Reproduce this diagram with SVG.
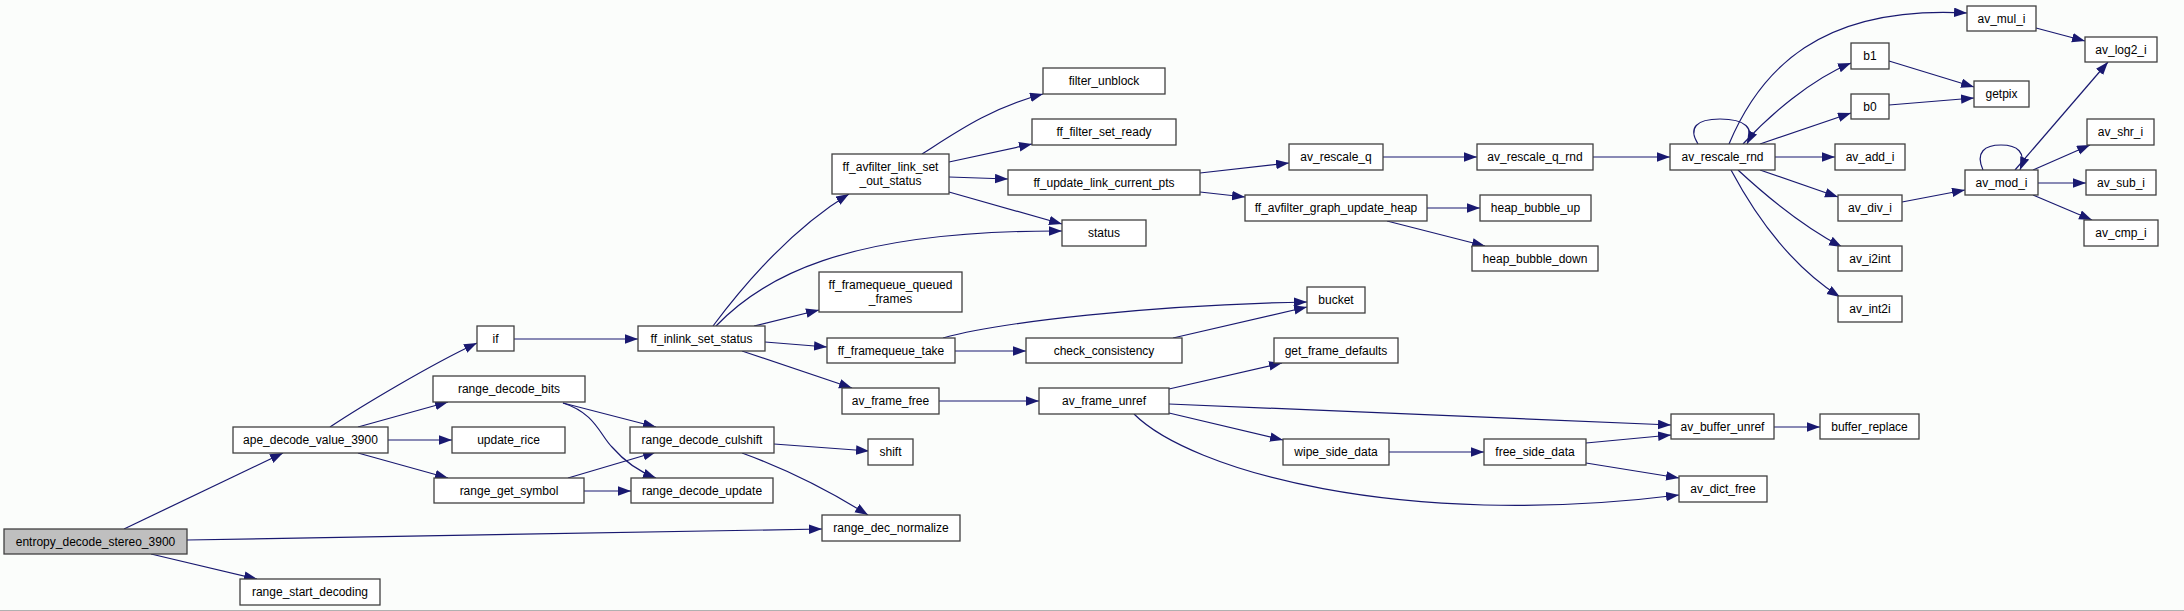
<svg xmlns="http://www.w3.org/2000/svg" width="2184" height="611" viewBox="0 0 2184 611">
<style>
.bg{fill:#fbfdfb}
.n rect{fill:#ffffff;stroke:#404040;stroke-width:1.3}
.n text{font-family:"Liberation Sans",Arial,sans-serif;font-size:12px;fill:#000;text-anchor:middle}
.e path{fill:none;stroke:#191970;stroke-width:1.2;marker-end:url(#ah)}
</style>
<defs>
<marker id="ah" markerWidth="14" markerHeight="10" refX="13" refY="4.75" orient="auto" markerUnits="userSpaceOnUse">
<path d="M0,0 L13,4.75 L0,9.5 z" fill="#191970"/>
</marker>
</defs>
<rect class="bg" x="0" y="0" width="2184" height="611"/>
<line x1="0" y1="610.5" x2="2184" y2="610.5" stroke="#b0b0b0" stroke-width="1"/>
<g id="connectors" class="e">
<path d="M124,529 L283,453"/>
<path d="M151,554 L257,579"/>
<path d="M187,540 L822,529"/>
<path d="M330,427 C360,407 430,365 477,343"/>
<path d="M358,427 L448,402"/>
<path d="M388,440 L452,440"/>
<path d="M358,453 L448,478"/>
<path d="M514,339 L638,339"/>
<path d="M563,403 L656,427"/>
<path d="M563,403 C595,413 600,435 612,447 C625,462 640,472 656,478"/>
<path d="M568,478 L656,452"/>
<path d="M584,491 L631,491"/>
<path d="M774,444 L869,451"/>
<path d="M742,453 C775,465 820,485 868,515"/>
<path d="M713,326 C740,290 790,230 849,194"/>
<path d="M716,326 C760,280 840,230 1062,231"/>
<path d="M754,326 L819,310"/>
<path d="M765,342 L827,347"/>
<path d="M742,351 L852,388"/>
<path d="M922,154 C955,133 990,108 1043,94"/>
<path d="M949,162 L1032,144"/>
<path d="M949,177 L1008,179"/>
<path d="M949,192 L1062,224"/>
<path d="M943,338 C1000,322 1150,305 1307,302"/>
<path d="M955,351 L1026,351"/>
<path d="M1173,338 L1307,307"/>
<path d="M939,401 L1039,401"/>
<path d="M1200,173 L1289,163"/>
<path d="M1200,192 L1245,197"/>
<path d="M1383,157 L1477,157"/>
<path d="M1593,157 L1670,157"/>
<path d="M1427,208 L1480,208"/>
<path d="M1387,221 L1485,246"/>
<path d="M1169,389 L1282,363"/>
<path d="M1169,404 L1671,425"/>
<path d="M1169,413 L1283,440"/>
<path d="M1134,414 C1190,470 1400,530 1679,495"/>
<path d="M1389,452 L1484,452"/>
<path d="M1586,443 L1671,435"/>
<path d="M1586,463 L1679,478"/>
<path d="M1774,427 L1820,427"/>
<path d="M1698,144 C1688,128 1696,119 1720,119 C1745,119 1755,128 1747,144"/>
<path d="M1729,144 C1760,70 1820,5 1967,13"/>
<path d="M1743,144 C1770,115 1810,80 1851,63"/>
<path d="M1760,144 L1851,113"/>
<path d="M1775,157 L1835,157"/>
<path d="M1760,170 L1838,197"/>
<path d="M1738,170 C1765,195 1800,225 1842,247"/>
<path d="M1731,170 C1755,215 1790,265 1840,297"/>
<path d="M1889,61 L1974,87"/>
<path d="M1889,105 L1974,98"/>
<path d="M2036,28 L2085,41"/>
<path d="M1902,202 L1965,190"/>
<path d="M1983,170 C1975,152 1985,145 2001,145 C2017,145 2027,152 2020,170"/>
<path d="M2015,170 L2108,62"/>
<path d="M2033,170 L2090,145"/>
<path d="M2038,183 L2086,183"/>
<path d="M2033,195 L2092,220"/>
</g>
<g id="n_entropy" class="n"><rect x="4" y="529" width="183" height="25" style="fill:#bfbfbf"/><text x="95.5" y="545.5">entropy_decode_stereo_3900</text></g>
<g id="n_ape" class="n"><rect x="233" y="427" width="155" height="26"/><text x="310.5" y="444">ape_decode_value_3900</text></g>
<g id="n_rsd" class="n"><rect x="240" y="579" width="140" height="26"/><text x="310" y="596">range_start_decoding</text></g>
<g id="n_if" class="n"><rect x="477" y="326" width="37" height="25"/><text x="495.5" y="342.5">if</text></g>
<g id="n_rdb" class="n"><rect x="433" y="376" width="152" height="26"/><text x="509" y="393">range_decode_bits</text></g>
<g id="n_ur" class="n"><rect x="452" y="427" width="113" height="26"/><text x="508.5" y="444">update_rice</text></g>
<g id="n_rgs" class="n"><rect x="434" y="478" width="150" height="25"/><text x="509" y="494.5">range_get_symbol</text></g>
<g id="n_fis" class="n"><rect x="638" y="326" width="127" height="25"/><text x="701.5" y="342.5">ff_inlink_set_status</text></g>
<g id="n_fqq" class="n"><rect x="819" y="272" width="143" height="40"/><text x="890.5" y="289">ff_framequeue_queued</text><text x="890.5" y="303">_frames</text></g>
<g id="n_fqt" class="n"><rect x="827" y="338" width="128" height="25"/><text x="891" y="354.5">ff_framequeue_take</text></g>
<g id="n_cc" class="n"><rect x="1026" y="338" width="156" height="25"/><text x="1104" y="354.5">check_consistency</text></g>
<g id="n_aff" class="n"><rect x="842" y="388" width="97" height="26"/><text x="890.5" y="405">av_frame_free</text></g>
<g id="n_afu" class="n"><rect x="1039" y="388" width="130" height="26"/><text x="1104" y="405">av_frame_unref</text></g>
<g id="n_rdc" class="n"><rect x="630" y="427" width="144" height="26"/><text x="702" y="444">range_decode_culshift</text></g>
<g id="n_rdu" class="n"><rect x="631" y="478" width="142" height="25"/><text x="702" y="494.5">range_decode_update</text></g>
<g id="n_shift" class="n"><rect x="868" y="439" width="45" height="26"/><text x="890.5" y="456">shift</text></g>
<g id="n_rdn" class="n"><rect x="822" y="515" width="138" height="26"/><text x="891" y="532">range_dec_normalize</text></g>
<g id="n_fals" class="n"><rect x="832" y="154" width="117" height="40"/><text x="890.5" y="171">ff_avfilter_link_set</text><text x="890.5" y="185">_out_status</text></g>
<g id="n_fu" class="n"><rect x="1043" y="68" width="122" height="26"/><text x="1104" y="85">filter_unblock</text></g>
<g id="n_fsr" class="n"><rect x="1032" y="119" width="144" height="26"/><text x="1104" y="136">ff_filter_set_ready</text></g>
<g id="n_fulcp" class="n"><rect x="1008" y="170" width="192" height="25"/><text x="1104" y="186.5">ff_update_link_current_pts</text></g>
<g id="n_status" class="n"><rect x="1062" y="220" width="84" height="26"/><text x="1104" y="237">status</text></g>
<g id="n_arq" class="n"><rect x="1289" y="144" width="94" height="26"/><text x="1336" y="161">av_rescale_q</text></g>
<g id="n_arqr" class="n"><rect x="1477" y="144" width="116" height="26"/><text x="1535" y="161">av_rescale_q_rnd</text></g>
<g id="n_fagu" class="n"><rect x="1245" y="195" width="182" height="26"/><text x="1336" y="212">ff_avfilter_graph_update_heap</text></g>
<g id="n_hbu" class="n"><rect x="1480" y="195" width="111" height="26"/><text x="1535.5" y="212">heap_bubble_up</text></g>
<g id="n_hbd" class="n"><rect x="1472" y="246" width="126" height="25"/><text x="1535" y="262.5">heap_bubble_down</text></g>
<g id="n_bucket" class="n"><rect x="1307" y="287" width="58" height="26"/><text x="1336" y="304">bucket</text></g>
<g id="n_gfd" class="n"><rect x="1274" y="338" width="124" height="25"/><text x="1336" y="354.5">get_frame_defaults</text></g>
<g id="n_wsd" class="n"><rect x="1283" y="439" width="106" height="26"/><text x="1336" y="456">wipe_side_data</text></g>
<g id="n_fsd" class="n"><rect x="1484" y="439" width="102" height="26"/><text x="1535" y="456">free_side_data</text></g>
<g id="n_abu" class="n"><rect x="1671" y="414" width="103" height="25"/><text x="1722.5" y="430.5">av_buffer_unref</text></g>
<g id="n_br" class="n"><rect x="1820" y="414" width="99" height="25"/><text x="1869.5" y="430.5">buffer_replace</text></g>
<g id="n_adf" class="n"><rect x="1679" y="476" width="88" height="26"/><text x="1723" y="493">av_dict_free</text></g>
<g id="n_int2i" class="n"><rect x="1838" y="296" width="64" height="26"/><text x="1870" y="313">av_int2i</text></g>
<g id="n_arr" class="n"><rect x="1670" y="144" width="105" height="26"/><text x="1722.5" y="161">av_rescale_rnd</text></g>
<g id="n_mul" class="n"><rect x="1967" y="6" width="69" height="25"/><text x="2001.5" y="22.5">av_mul_i</text></g>
<g id="n_log2" class="n"><rect x="2085" y="37" width="72" height="25"/><text x="2121" y="53.5">av_log2_i</text></g>
<g id="n_b1" class="n"><rect x="1851" y="43" width="38" height="26"/><text x="1870" y="60">b1</text></g>
<g id="n_getpix" class="n"><rect x="1974" y="81" width="55" height="26"/><text x="2001.5" y="98">getpix</text></g>
<g id="n_b0" class="n"><rect x="1851" y="94" width="38" height="25"/><text x="1870" y="110.5">b0</text></g>
<g id="n_add" class="n"><rect x="1835" y="144" width="70" height="26"/><text x="1870" y="161">av_add_i</text></g>
<g id="n_shr" class="n"><rect x="2087" y="119" width="67" height="26"/><text x="2120.5" y="136">av_shr_i</text></g>
<g id="n_mod" class="n"><rect x="1965" y="170" width="73" height="25"/><text x="2001.5" y="186.5">av_mod_i</text></g>
<g id="n_sub" class="n"><rect x="2086" y="170" width="70" height="25"/><text x="2121" y="186.5">av_sub_i</text></g>
<g id="n_div" class="n"><rect x="1838" y="195" width="64" height="26"/><text x="1870" y="212">av_div_i</text></g>
<g id="n_cmp" class="n"><rect x="2084" y="220" width="74" height="26"/><text x="2121" y="237">av_cmp_i</text></g>
<g id="n_i2int" class="n"><rect x="1838" y="246" width="64" height="25"/><text x="1870" y="262.5">av_i2int</text></g>
</svg>
